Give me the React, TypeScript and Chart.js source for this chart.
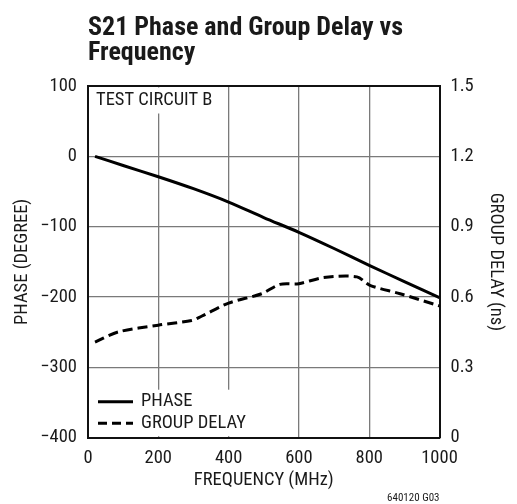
import React, { useEffect, useRef } from "react";
import { Chart, registerables } from "chart.js";

Chart.register(...registerables);

const TITLE_LINES = ["S21 Phase and Group Delay vs", "Frequency"];
const X_TITLE = "FREQUENCY (MHz)";
const Y_TITLE = "PHASE (DEGREE)";
const Y2_TITLE = "GROUP DELAY (ns)";
const NOTE = "TEST CIRCUIT B";
const FOOTNOTE = "640120 G03";
const SERIES_NAMES = ["PHASE", "GROUP DELAY"];

const phaseFreq = [20, 100, 200, 300, 400, 500, 600, 700, 800, 900, 1000];
const phaseDeg = [0, -13, -29, -46, -65, -87, -108, -131, -155, -178, -201];

const delayFreq = [20, 86, 200, 295, 323, 400, 494, 546, 600, 670, 765, 802, 888, 1000];
const delayNs = [0.408, 0.451, 0.48, 0.5, 0.518, 0.574, 0.614, 0.654, 0.657, 0.683, 0.686, 0.65, 0.614, 0.562];

const xTicks = [0, 200, 400, 600, 800, 1000];
const yTicks = [-400, -300, -200, -100, 0, 100];
const y2Ticks = [0, 0.3, 0.6, 0.9, 1.2, 1.5];

const FONT = "'Roboto Condensed', Roboto, sans-serif";
const INK = "#1a1a1a";
const FS = 18.5;

const overlayPlugin = {
  id: "overlay",
  beforeDatasetsDraw(chart: any) {
    const ctx = chart.ctx;
    const a = chart.chartArea;
    ctx.save();
    ctx.fillStyle = "#ffffff";
    ctx.fillRect(a.left + 1.5, a.top + 1.5, 136, 26);
    ctx.fillRect(a.left + 1.5, a.bottom - 48, 174, 46.5);
    ctx.restore();
  },
  afterDraw(chart: any) {
    const ctx = chart.ctx;
    const a = chart.chartArea;
    ctx.save();
    ctx.fillStyle = INK;
    ctx.textAlign = "left";
    ctx.textBaseline = "alphabetic";
    ctx.font = `bold 26px ${FONT}`;
    ctx.fillText(TITLE_LINES[0], a.left, 35);
    ctx.fillText(TITLE_LINES[1], a.left, 60);

    ctx.font = `${FS}px ${FONT}`;
    ctx.textBaseline = "middle";
    ctx.fillText(NOTE, a.left + 8, a.top + 14);

    const lx0 = a.left + 10;
    const lx1 = a.left + 45;
    const ly1 = a.bottom - 36;
    const ly2 = a.bottom - 14.5;
    ctx.strokeStyle = "#000";
    ctx.lineWidth = 3;
    ctx.beginPath();
    ctx.moveTo(lx0, ly1);
    ctx.lineTo(lx1, ly1);
    ctx.stroke();
    ctx.setLineDash([9, 5]);
    ctx.beginPath();
    ctx.moveTo(lx0, ly2);
    ctx.lineTo(lx1, ly2);
    ctx.stroke();
    ctx.setLineDash([]);
    ctx.fillText(SERIES_NAMES[0], a.left + 53, ly1);
    ctx.fillText(SERIES_NAMES[1], a.left + 53, ly2);

    ctx.font = `11px ${FONT}`;
    ctx.textAlign = "right";
    ctx.fillText(FOOTNOTE, a.right, 498);
    ctx.restore();
  },
};

export default function App() {
  const ref = useRef<HTMLCanvasElement | null>(null);

  useEffect(() => {
    if (!ref.current) return;
    const tickFont = { family: FONT, size: FS };
    const chart = new Chart(ref.current, {
      type: "line",
      data: {
        datasets: [
          {
            label: SERIES_NAMES[0],
            data: phaseFreq.map((x, i) => ({ x, y: phaseDeg[i] })),
            borderColor: "#000",
            borderWidth: 3,
            pointRadius: 0,
            tension: 0.3,
            yAxisID: "y",
          },
          {
            label: SERIES_NAMES[1],
            data: delayFreq.map((x, i) => ({ x, y: delayNs[i] })),
            borderColor: "#000",
            borderWidth: 3,
            borderDash: [10, 5],
            pointRadius: 0,
            tension: 0.3,
            yAxisID: "y2",
          },
        ],
      },
      options: {
        animation: false,
        responsive: false,
        layout: { padding: { left: 0, right: 0, top: 86, bottom: 0 } },
        plugins: {
          legend: { display: false },
          tooltip: { enabled: false },
          title: { display: false },
        },
        scales: {
          x: {
            type: "linear",
            min: 0,
            max: 1000,
            afterBuildTicks: (s: any) => {
              s.ticks = xTicks.map((v) => ({ value: v }));
            },
            afterFit: (s: any) => {
              s.height = 66.3;
            },
            grid: { color: "#7a7a7a", lineWidth: 1.3, drawTicks: false },
            border: { color: "#111", width: 2 },
            ticks: {
              font: tickFont,
              color: INK,
              padding: 10,
              maxRotation: 0,
              callback: (v: any) => String(v),
            },
            title: {
              display: true,
              text: X_TITLE,
              font: tickFont,
              color: INK,
              padding: { top: 13, bottom: 13 },
            },
          },
          y: {
            type: "linear",
            position: "left",
            min: -400,
            max: 100,
            afterBuildTicks: (s: any) => {
              s.ticks = yTicks.map((v) => ({ value: v }));
            },
            afterFit: (s: any) => {
              s.width = 88;
            },
            grid: {
              color: (c: any) => (c.tick && c.tick.value === 100 ? "#111" : "#7a7a7a"),
              lineWidth: (c: any) => (c.tick && c.tick.value === 100 ? 2 : 1.3),
              drawTicks: false,
            },
            border: { color: "#111", width: 2 },
            ticks: {
              font: tickFont,
              color: INK,
              padding: 11,
              callback: (v: any) => (Number(v) < 0 ? "\u2212" + Math.abs(Number(v)) : String(v)),
            },
            title: {
              display: true,
              text: Y_TITLE,
              font: tickFont,
              color: INK,
              padding: { top: 11, bottom: 0 },
            },
          },
          y2: {
            type: "linear",
            position: "right",
            min: 0,
            max: 1.5,
            afterBuildTicks: (s: any) => {
              s.ticks = y2Ticks.map((v) => ({ value: v }));
            },
            afterFit: (s: any) => {
              s.width = 77.5;
            },
            grid: { drawOnChartArea: false, drawTicks: false },
            border: { color: "#111", width: 2 },
            ticks: {
              font: tickFont,
              color: INK,
              padding: 11,
              callback: (v: any) => (Number(v) === 0 ? "0" : Number(v).toFixed(1)),
            },
            title: {
              display: true,
              text: Y2_TITLE,
              font: tickFont,
              color: INK,
              padding: { top: 10, bottom: 0 },
            },
          },
        },
      },
      plugins: [overlayPlugin],
    } as any);
    return () => chart.destroy();
  }, []);

  return (
    <div style={{ position: "absolute", left: 0, top: 0, width: 517, height: 504, background: "#fff" }}>
      <canvas ref={ref} width={517} height={504} style={{ display: "block" }} />
    </div>
  );
}
